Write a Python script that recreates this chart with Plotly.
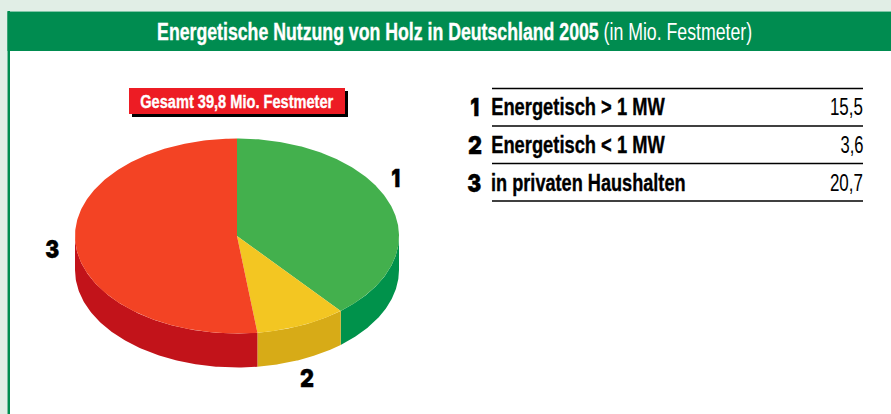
import json
import numpy as np
import plotly.graph_objects as go

# ---- data ----
title_main = "Energetische Nutzung von Holz in Deutschland 2005"
title_unit = "(in Mio. Festmeter)"
total_label = "Gesamt 39,8 Mio. Festmeter"
slice_ids = ["1", "2", "3"]
categories = ["Energetisch > 1 MW", "Energetisch < 1 MW", "in privaten Haushalten"]
values = [15.5, 3.6, 20.7]
value_labels = ["15,5", "3,6", "20,7"]

# ---- style ----
TOP = ["#43B04D", "#F3C622", "#F34324"]
SIDE = ["#00924B", "#D7AB17", "#C2131A"]
CX, CY, RX, RY, DEPTH = 237, 236, 162, 97.5, 34
SANS = "Liberation Sans, sans-serif"
HEAVY = "Inter, DejaVu Sans, sans-serif"

fig = go.Figure()
total = sum(values)
edges = np.concatenate([[0], np.cumsum(values)]) / total * 2 * np.pi


def px(t):
    return CX + RX * np.sin(t)


def py(t):
    return CY - RY * np.cos(t)


for i in range(len(values)):
    a, b = max(edges[i], np.pi / 2), min(edges[i + 1], 3 * np.pi / 2)
    if b > a:
        t = np.linspace(a, b, 120)
        xs = np.concatenate([px(t), px(t[::-1])])
        ys = np.concatenate([py(t), py(t[::-1]) + DEPTH])
        fig.add_trace(go.Scatter(x=xs, y=ys, mode="lines", fill="toself",
                                 fillcolor=SIDE[i], line=dict(width=0),
                                 hoverinfo="skip", showlegend=False))
for i in range(len(values)):
    t = np.linspace(edges[i], edges[i + 1], 240)
    xs = np.concatenate([[CX], px(t), [CX]])
    ys = np.concatenate([[CY], py(t), [CY]])
    fig.add_trace(go.Scatter(x=xs, y=ys, mode="lines", fill="toself",
                             fillcolor=TOP[i], line=dict(width=0),
                             name=categories[i], hoverinfo="name", showlegend=False))

shapes = [
    dict(type="rect", x0=7.5, x1=891, y0=11, y1=414, fillcolor="#FFFFFF", line_width=0, layer="below"),
    dict(type="rect", x0=7.5, x1=10, y0=11, y1=414, fillcolor="#008C50", line_width=0, layer="below"),
    dict(type="rect", x0=7.5, x1=891, y0=11.5, y1=51, fillcolor="#008C50", line_width=0, layer="below"),
    dict(type="rect", x0=132, x1=348, y0=91, y1=117, fillcolor="#000000", line_width=0, layer="below"),
    dict(type="rect", x0=129, x1=345, y0=88, y1=114, fillcolor="#ED1C24", line_width=0, layer="below"),
]
for y in [88.5, 126, 163.5, 201]:
    shapes.append(dict(type="line", x0=492, x1=863, y0=y, y1=y, line=dict(color="#000000", width=1.4)))

squeeze = {"1": 9, "2": 14, "3": 14}


def note(x0, x1, y, text, size, color="#000000", weight="normal", family=SANS, key=None):
    """Text spanning x0..x1 of the page, centred on y; condensed to fit that span."""
    squeeze[key or text] = x1 - x0
    return dict(x=(x0 + x1) / 2, y=y, text=text, showarrow=False, xanchor="center", yanchor="middle",
                font=dict(size=size, color=color, family=family, weight=weight))


def digit(x, y, text, size=25):
    return dict(x=x, y=y, text=text, showarrow=False, xanchor="center", yanchor="middle",
                font=dict(size=size, color="#000000", family=HEAVY, weight=900))


anns = [
    note(157, 752, 32, f"<b>{title_main}</b> {title_unit}", 23, "#FFFFFF",
         key=f"{title_main} {title_unit}"),
    note(140, 333, 102, total_label, 17.5, "#FFFFFF", "bold"),
    digit(395.5, 178, slice_ids[0]),
    digit(307, 378, slice_ids[1]),
    digit(52.5, 248.5, slice_ids[2]),
]
for sid, cat, lab, y, cat_end, val_start in zip(slice_ids, categories, value_labels,
                                                [106.5, 144.5, 182.5], [665, 665, 686], [830, 840, 830]):
    anns.append(digit(474.5, y, sid))
    anns.append(note(491.5, cat_end, y, cat, 23, weight="bold"))
    anns.append(note(val_start, 863, y, lab, 23))

fig.update_layout(
    width=891, height=414, margin=dict(l=0, r=0, t=0, b=0),
    paper_bgcolor="#E1EEE6", plot_bgcolor="rgba(0,0,0,0)",
    xaxis=dict(range=[0, 891], visible=False, fixedrange=True),
    yaxis=dict(range=[414, 0], visible=False, fixedrange=True),
    shapes=shapes, annotations=anns, showlegend=False,
)
post = """
document.body.style.margin='0';document.body.style.overflow='hidden';
var spans = %s;
function fit(){
  document.querySelectorAll('text.annotation-text').forEach(function(el){
    var w = spans[el.textContent];
    if (!w) return;
    el.setAttribute('textLength', w);
    el.setAttribute('lengthAdjust', 'spacingAndGlyphs');
    if (String(el.style.fontWeight) !== '400' && el.style.fontWeight !== 'normal') {
      el.style.stroke = el.style.fill; el.style.strokeWidth = '0.35px';
    }
    el.querySelectorAll('tspan').forEach(function(ts){
      if (ts.style.fontWeight === 'bold') { ts.style.stroke = el.style.fill; ts.style.strokeWidth = '0.35px'; }
    });
    var bg = el.parentNode.parentNode.querySelector('rect.bg');
    if (bg && !bg.dataset.fit) {
      var ow = parseFloat(bg.getAttribute('width')), ox = parseFloat(bg.getAttribute('x')) || 0;
      bg.setAttribute('x', ox + (ow - w) / 2);
      bg.setAttribute('width', w);
      bg.dataset.fit = '1';
    }
  });
}
fit(); setTimeout(fit, 50); setTimeout(fit, 300);
""" % json.dumps(squeeze)
fig.write_html("out.html", config={"displayModeBar": False}, post_script=post)
